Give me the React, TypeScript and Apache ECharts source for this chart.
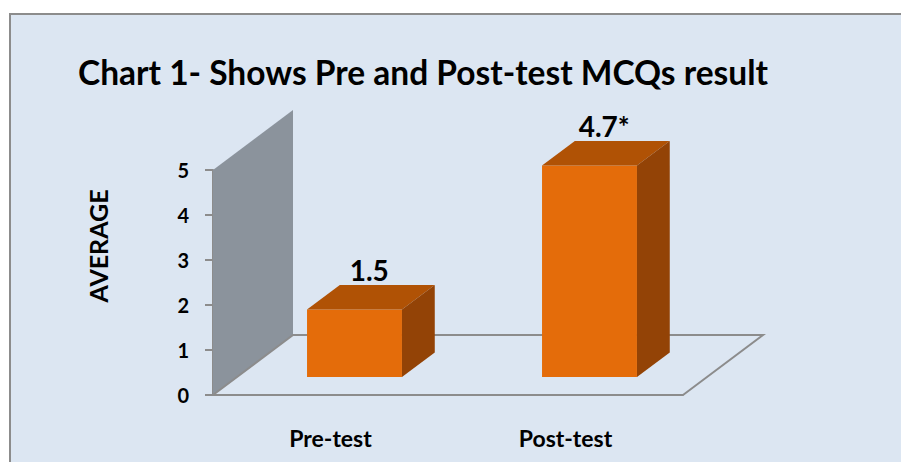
import React, { useEffect, useRef } from "react";
import * as echarts from "echarts";

const categories = ["Pre-test", "Post-test"];
const averages = [1.5, 4.7];
const barLabels = ["1.5", "4.7*"];
const yTicks = [0, 1, 2, 3, 4, 5];
const titleText = "Chart 1- Shows Pre and Post-test MCQs result";
const yAxisName = "AVERAGE";

const FONT = "Lato, 'Open Sans', sans-serif";
const DX = 80;
const DY = -60;
const FRONT = 0.3;
const DEPTH = 0.41;

export default function App() {
  const ref = useRef<HTMLDivElement>(null);
  useEffect(() => {
    if (!ref.current) return;
    const chart = echarts.init(ref.current, undefined, { renderer: "svg" });
    const barData = averages.map((v, i) => [i, v]);
    const option: any = {
      animation: false,
      backgroundColor: "#ffffff",
      graphic: [
        {
          type: "rect",
          z: -10,
          silent: true,
          shape: { x: 10, y: 14, width: 1000, height: 600 },
          style: { fill: "#DCE6F2", stroke: "#8C8C8C", lineWidth: 2 },
        },
        {
          type: "text",
          z: 5,
          x: 98,
          y: 246,
          rotation: Math.PI / 2,
          style: {
            text: yAxisName,
            align: "center",
            verticalAlign: "middle",
            fontFamily: FONT,
            fontWeight: "bold",
            fontSize: 25,
            fill: "#000",
          },
        },
      ],
      title: {
        text: titleText,
        left: 73,
        top: 50,
        textStyle: { fontFamily: FONT, fontWeight: "bold", fontSize: 33.5, color: "#000" },
      },
      grid: { left: 213, top: 170, width: 470, height: 225, containLabel: false },
      xAxis: {
        type: "category",
        data: categories,
        axisLine: { lineStyle: { color: "#8C8C8C", width: 2 } },
        axisTick: { length: 9, lineStyle: { color: "#8C8C8C", width: 2 } },
        axisLabel: { margin: 31, fontFamily: FONT, fontWeight: "bold", fontSize: 23, color: "#000" },
        splitLine: { show: false },
      },
      yAxis: {
        type: "value",
        min: yTicks[0],
        max: yTicks[yTicks.length - 1],
        interval: 1,
        axisLine: { show: true, lineStyle: { color: "#8C8C8C", width: 2 } },
        axisTick: { show: true, length: 8, lineStyle: { color: "#8C8C8C", width: 2 } },
        axisLabel: { margin: 24, fontFamily: FONT, fontWeight: "bold", fontSize: 20, color: "#000" },
        splitLine: { show: false },
      },
      series: [
        {
          type: "custom",
          z: 1,
          silent: true,
          clip: false,
          data: [[0, 0]],
          renderItem: (params: any) => {
            const cs = params.coordSys;
            const x = cs.x, y = cs.y, w = cs.width, h = cs.height;
            return {
              type: "group",
              children: [
                {
                  type: "polygon",
                  shape: {
                    points: [
                      [x, y + h],
                      [x, y],
                      [x + DX, y + DY],
                      [x + DX, y + h + DY],
                    ],
                  },
                  style: { fill: "#8B939C" },
                },
                {
                  type: "polyline",
                  shape: {
                    points: [
                      [x, y + h],
                      [x + DX, y + h + DY],
                      [x + w + DX, y + h + DY],
                      [x + w, y + h],
                    ],
                  },
                  style: { stroke: "#8C8C8C", lineWidth: 2, fill: null },
                },
              ],
            };
          },
        },
        {
          type: "custom",
          z: 3,
          clip: false,
          data: barData,
          renderItem: (params: any, api: any) => {
            const idx = api.value(0);
            const val = api.value(1);
            const base = api.coord([idx, 0]);
            const top = api.coord([idx, val]);
            const bandW = api.size([1, 0])[0];
            const bw = bandW * 0.404;
            const fx = base[0] + FRONT * DX;
            const fy0 = base[1] + FRONT * DY;
            const fy1 = top[1] + FRONT * DY;
            const l = fx - bw / 2;
            const r = fx + bw / 2;
            const bx = DEPTH * DX;
            const by = DEPTH * DY;
            return {
              type: "group",
              children: [
                {
                  type: "text",
                  z2: 0,
                  style: {
                    text: barLabels[params.dataIndex],
                    x: fx + bx * 0.45,
                    y: fy1 + by - 15,
                    align: "center",
                    verticalAlign: "middle",
                    fontFamily: FONT,
                    fontWeight: "bold",
                    fontSize: 28,
                    fill: "#000",
                  },
                },
                {
                  type: "rect",
                  z2: 5,
                  shape: { x: l, y: fy1, width: bw, height: fy0 - fy1 },
                  style: { fill: "#E46C0A" },
                },
                {
                  type: "polygon",
                  z2: 5,
                  shape: { points: [[l, fy1], [l + bx, fy1 + by], [r + bx, fy1 + by], [r, fy1]] },
                  style: { fill: "#B05205" },
                },
                {
                  type: "polygon",
                  z2: 5,
                  shape: { points: [[r, fy1], [r + bx, fy1 + by], [r + bx, fy0 + by], [r, fy0]] },
                  style: { fill: "#934306" },
                },
              ],
            };
          },
        },
      ],
    };
    chart.setOption(option);
    return () => chart.dispose();
  }, []);
  return (
    <div
      ref={ref}
      style={{ position: "absolute", left: 0, top: 0, width: 901, height: 462 }}
    />
  );
}
